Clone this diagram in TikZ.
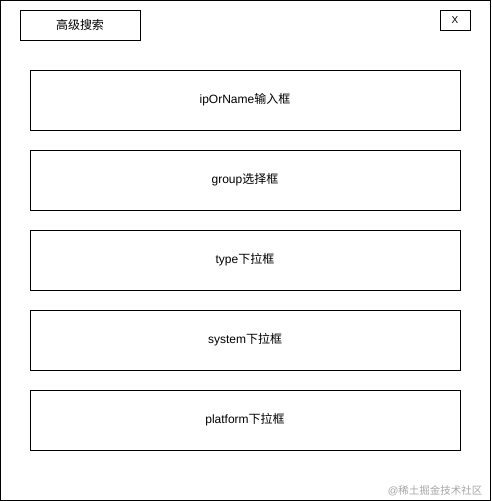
\documentclass[tikz,border=0pt]{standalone}
\usepackage{fontspec}
\setmainfont{Liberation Sans}
\newfontfamily\cjk{Noto Sans CJK SC}

\tikzset{
  fieldbox/.style={draw, line width=1pt, minimum width=430pt, minimum height=60pt, inner sep=0pt, font=\fontsize{12pt}{14pt}\selectfont},
  titlebox/.style={draw, line width=1pt, minimum width=120pt, minimum height=30pt, inner sep=0pt, font=\fontsize{12pt}{14pt}\selectfont},
  closebox/.style={draw, line width=1pt, minimum width=30pt, minimum height=20pt, inner sep=0pt, font=\fontsize{10pt}{12pt}\selectfont}
}

\begin{document}
\begin{tikzpicture}[x=1pt,y=-1pt]

\useasboundingbox (0,0) rectangle (491,501);
\draw[line width=1pt] (0.5,0.5) rectangle (490,500);

\node[titlebox] (title) at (80,25) {\cjk 高级搜索};
\node[closebox] (close) at (455,20) {X};

\node[fieldbox] (ipname) at (245,100) {ipOrName{\cjk 输入框}};
\node[fieldbox] (group) at (245,180) {group{\cjk 选择框}};
\node[fieldbox] (type) at (245,260) {type{\cjk 下拉框}};
\node[fieldbox] (system) at (245,340) {system{\cjk 下拉框}};
\node[fieldbox] (platform) at (245,420) {platform{\cjk 下拉框}};

\node[anchor=east, text=black!35, font=\fontsize{10.5pt}{12pt}\selectfont] (mark) at (486,491) {@{\cjk 稀土掘金技术社区}};
\end{tikzpicture}
\end{document}
